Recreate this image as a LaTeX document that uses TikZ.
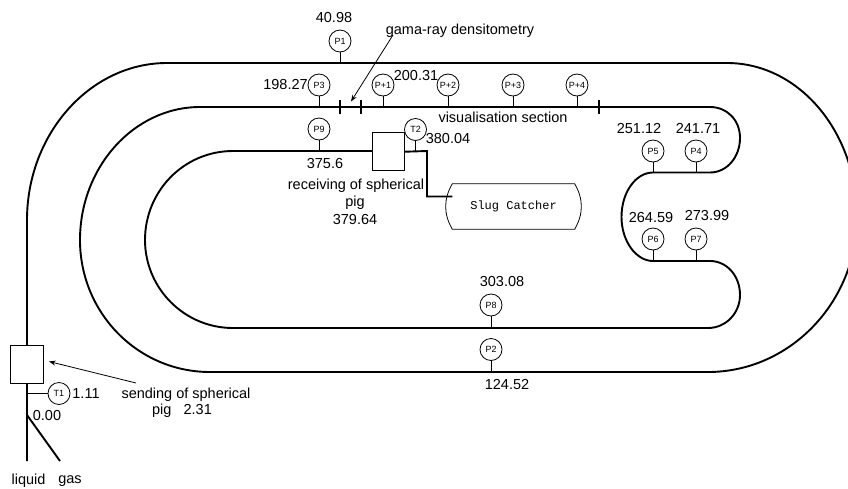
\documentclass[tikz,border=0pt]{standalone}
\usepackage{fontspec}
\setmainfont{Liberation Sans}
\newfontfamily\slugfont{Liberation Mono}
\usetikzlibrary{arrows.meta}
\tikzset{
  pipe/.style={line width=1.9pt, color=black},
  stem/.style={line width=0.8pt, color=black},
  tick/.style={line width=1.9pt, color=black},
  gauge/.style={circle, draw, fill=white, minimum size=22pt, inner sep=0pt, line width=0.8pt,
    font=\fontsize{9}{10}\selectfont},
  wgauge/.style={circle, draw, fill=white, minimum size=22pt, inner sep=0pt, line width=0.8pt,
    label={[fill=white, inner sep=0.6pt, font=\fontsize{9}{10}\selectfont]center:#1}},
  station/.style={rectangle, draw, fill=white, line width=0.8pt, inner sep=0pt},
  lbl/.style={inner sep=0pt, font=\fontsize{14.5}{16}\selectfont, align=center},
  pointer/.style={-Stealth, line width=0.8pt}
}
\begin{document}
\begin{tikzpicture}[x=1pt, y=-1pt]
  \useasboundingbox (0,0) rectangle (848,488);

  % Levels of the pipe runs
  \coordinate (toprun) at (0,63);
  \coordinate (visrun) at (0,107);
  \coordinate (innerrun) at (0,151);
  \coordinate (upperbend) at (0,172.5);
  \coordinate (lowerbend) at (0,261);
  \coordinate (returnrun) at (0,328);
  \coordinate (botrun) at (0,372);
  \coordinate (inletrun) at (27,0);

  % Pipe loop
  \draw[pipe] (27,461) -- (27,220) .. controls (27,134) and (90,63) .. (167,63) -- (727,63)
    .. controls (799,63) and (857,132) .. (857,217) .. controls (857,302) and (790,372) .. (708,372)
    -- (210,372) .. controls (138,372) and (80,313) .. (80,240) .. controls (80,167) and (134,107) .. (200,107)
    -- (710,107) .. controls (727,107) and (740,120) .. (740,138) .. controls (740,157) and (727,172.5) .. (710,172.5)
    -- (653,172.5) .. controls (636,172.5) and (621.5,192) .. (621.5,217) .. controls (621.5,241) and (636,261) .. (653,261)
    -- (710,261) .. controls (727,261) and (740,276) .. (740,295) .. controls (740,313) and (726,328) .. (708,328)
    -- (233,328) .. controls (184,328) and (145,288) .. (145,240) .. controls (145,191) and (184,151) .. (233,151)
    -- (372,151);

  % Stations
  \node[station, minimum width=32.5pt, minimum height=38pt] (send) at (26.8,364) {};
  \node[station, minimum width=32.5pt, minimum height=38pt] (recv) at (388.5,151.7) {};

  % Slug catcher
  \node[minimum width=122pt, minimum height=45pt, inner sep=0pt, font=\slugfont\fontsize{12}{14}\selectfont] (slug) at (513.5,206.5) {Slug Catcher};
  \draw[line width=0.8pt] (slug.south west) to[bend left=30] (slug.north west) -- (slug.north east)
    to[bend left=30] (slug.south east) -- cycle;
  \draw[pipe] (recv.east) -- (427,151) -- (427,196.5) -- (slug.west |- 0,196.5);

  % Gas branch
  \coordinate (gasjoin) at (27,415);
  \coordinate (gasend) at (60,461);
  \draw[pipe] (gasjoin) -- (gasend);

  % Gauges
  \node[gauge] (p1) at (340,41) {P1};
  \node[gauge] (p2) at (491,349.5) {P2};
  \node[gauge] (p3) at (319,85) {P3};
  \node[gauge] (p4) at (696,151) {P4};
  \node[gauge] (p5) at (653,151) {P5};
  \node[gauge] (p6) at (653,239) {P6};
  \node[gauge] (p7) at (696,239) {P7};
  \node[gauge] (p8) at (491,305) {P8};
  \node[gauge] (p9) at (319,129) {P9};
  \node[gauge] (t1) at (59,393.5) {T1};
  \node[gauge] (t2) at (415.5,129.5) {T2};
  \node[wgauge=P+1] (pp1) at (383,85) {};
  \node[wgauge=P+2] (pp2) at (448,85) {};
  \node[wgauge=P+3] (pp3) at (513,85) {};
  \node[wgauge=P+4] (pp4) at (577,85) {};

  % Gauge stems
  \draw[stem] (p1) -- (p1 |- toprun);
  \foreach \g in {p3,pp1,pp2,pp3,pp4} \draw[stem] (\g) -- (\g |- visrun);
  \foreach \g in {p9,t2} \draw[stem] (\g) -- (\g |- innerrun);
  \foreach \g in {p4,p5} \draw[stem] (\g) -- (\g |- upperbend);
  \foreach \g in {p6,p7} \draw[stem] (\g) -- (\g |- lowerbend);
  \draw[stem] (p8) -- (p8 |- returnrun);
  \draw[stem] (p2) -- (p2 |- botrun);
  \draw[stem] (t1) -- (t1 -| inletrun);

  % Section ticks
  \foreach \x in {340,361,599} \draw[tick] (\x,100) -- (\x,114);

  % Values and captions
  \node[lbl] (v1) at (334,18) {40.98};
  \node[lbl] (v3) at (285.5,85) {198.27};
  \node[lbl] (vp) at (416,76) {200.31};
  \node[lbl] (v9) at (325,164) {375.6};
  \node[lbl] (vt2) at (448,138.5) {380.04};
  \node[lbl] (v5) at (639,129) {251.12};
  \node[lbl] (v4) at (698,128) {241.71};
  \node[lbl] (v6) at (651,217.5) {264.59};
  \node[lbl] (v7) at (707,216) {273.99};
  \node[lbl] (v8) at (502,282) {303.08};
  \node[lbl] (v2) at (507,384) {124.52};
  \node[lbl] (vt1) at (86,393.5) {1.11};
  \node[lbl] (v0) at (47,415) {0.00};
  \node[lbl] (gama) at (460,31) {gama-ray densitometry};
  \node[lbl] (vis) at (503,117) {visualisation section};
  \node[lbl] (recvlbl) at (356,185.5) {receiving of spherical};
  \node[lbl] (recvpig) at (355,203) {pig};
  \node[lbl] (recvval) at (355,219.5) {379.64};
  \node[lbl] (sendlbl) at (186,395) {sending of spherical};
  \node[lbl] (sendpig) at (182,411) {pig\ \ \ 2.31};
  \node[lbl] (liquid) at (28.5,481) {liquid};
  \node[lbl] (gas) at (70,481) {gas};

  % Pointers
  \coordinate (gamafoot) at (393,35);
  \coordinate (gamatip) at (351,101.5);
  \coordinate (sendfoot) at (136,383);
  \coordinate (sendtip) at (49,361.5);
  \draw[pointer] (gamafoot) -- (gamatip);
  \draw[pointer] (sendfoot) -- (sendtip);
\end{tikzpicture}
\end{document}
